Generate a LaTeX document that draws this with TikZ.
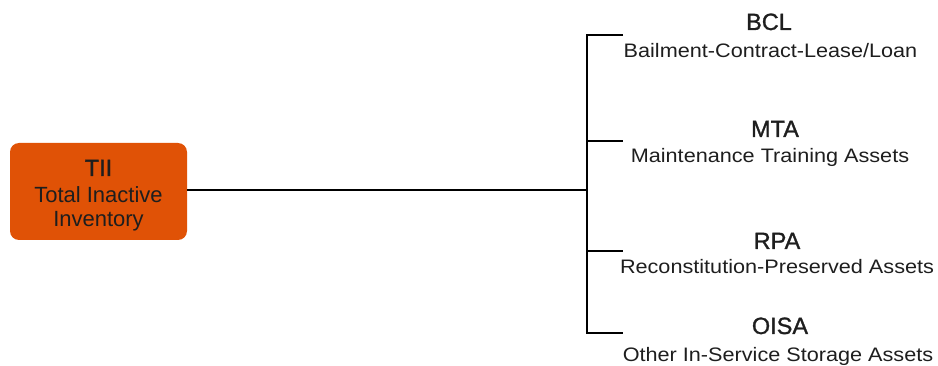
\documentclass[tikz,border=0pt]{standalone}
\usepackage{fontspec}
\setmainfont{Liberation Sans}
\newfontfamily\subfnt[FakeStretch=1.11]{Liberation Sans}
\newfontfamily\headfnt[FakeBold=1.2]{Liberation Sans}
\definecolor{boxorange}{HTML}{E05206}
\definecolor{txt}{HTML}{1E1E1E}
\tikzset{
  conn/.style={line width=2pt, draw=black},
  head/.style={anchor=base, inner sep=0pt, text=txt, font=\headfnt\fontsize{23.5}{26}\selectfont},
  sub/.style={anchor=base, inner sep=0pt, text=txt, font=\subfnt\fontsize{19.5}{22}\selectfont},
  rootbox/.style={draw=none, fill=boxorange, rounded corners=9pt, minimum width=177pt, minimum height=97pt, inner sep=0pt},
  roottxt/.style={anchor=base, inner sep=0pt, text=txt}
}
\begin{document}
\begin{tikzpicture}[x=1pt,y=-1pt]
\useasboundingbox (0,0) rectangle (938,366);
\node[rootbox] (root) at (98.5,191.5) {};
\node[roottxt, font=\headfnt\fontsize{23.5}{26}\selectfont] (t1) at (98.5,176) {TII};
\node[roottxt, font=\fontsize{22}{24}\selectfont] (t2) at (98.5,203) {Total Inactive};
\node[roottxt, font=\fontsize{22}{24}\selectfont] (t3) at (98.5,227) {Inventory};
\coordinate (j) at (587,190);
\coordinate (vt) at (587,35);
\coordinate (vb) at (587,333);
\coordinate (b1) at (623,35);
\coordinate (b2) at (623,141);
\coordinate (b3) at (623,251);
\coordinate (b4) at (623,333);
\draw[conn] (root.east |- j) -- (j);
\draw[conn] (b1) -- (vt) -- (vb) -- (b4);
\draw[conn] (587,141) -- (b2);
\draw[conn] (587,251) -- (b3);
\node[head] (h1) at (769,30) {BCL};
\node[sub] (s1) at (770.5,58) {Bailment-Contract-Lease/Loan};
\node[head] (h2) at (775,137) {MTA};
\node[sub] (s2) at (770,163) {Maintenance Training Assets};
\node[head] (h3) at (777,249) {RPA};
\node[sub] (s3) at (777,274) {Reconstitution-Preserved Assets};
\node[head] (h4) at (780,334) {OISA};
\node[sub] (s4) at (778,361) {Other In-Service Storage Assets};
\end{tikzpicture}
\end{document}
